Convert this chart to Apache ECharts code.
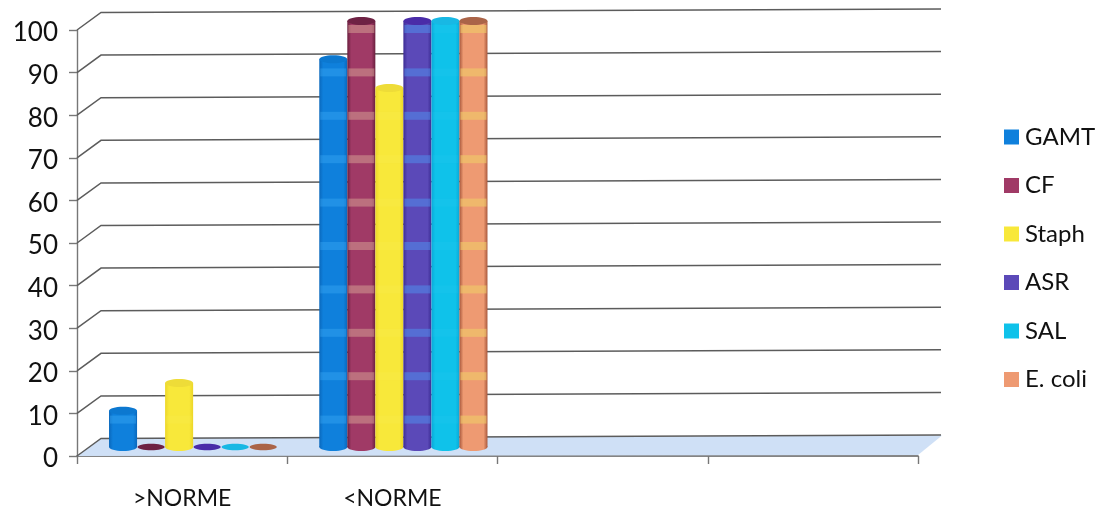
<!DOCTYPE html>
<html>
<head>
<meta charset="utf-8">
<style>html,body{margin:0;padding:0;background:#fff}#c{width:1095px;height:510px}</style>
<script src="https://cdn.jsdelivr.net/npm/echarts@6/dist/echarts.min.js"></script>
</head>
<body>
<div id="c"></div>
<script>
const categories = ['>NORME', '<NORME', '', ''];
const seriesNames = ['GAMT', 'CF', 'Staph', 'ASR', 'SAL', 'E. coli'];
const GAMT = [8.5, 91];
const CF = [0, 100];
const Staph = [15, 84.3];
const ASR = [0, 100];
const SAL = [0, 100];
const Ecoli = [0, 100];
const seriesValues = [GAMT, CF, Staph, ASR, SAL, Ecoli];
const gridValues = [0, 10, 20, 30, 40, 50, 60, 70, 80, 90, 100];
const bandValues = [10, 20, 30, 40, 50, 60, 70, 80, 90, 100];

const styles = [
  {base:'#0f80dc', edge:'#0a68bc', cap:'#0c78d0', band:'rgba(60,170,245,.4)'},
  {base:'#a03a66', edge:'#6a1f3e', cap:'#6e2244', band:'rgba(215,165,150,.5)'},
  {base:'#f8e83a', edge:'#ecd628', cap:'#eedc38', band:'rgba(250,240,90,.2)'},
  {base:'#5b49b8', edge:'#3c2c94', cap:'#4a2ca8', band:'rgba(80,140,235,.55)'},
  {base:'#0fc2ea', edge:'#0aa8d8', cap:'#18b8e4', band:'rgba(40,200,240,.2)'},
  {base:'#ee9a72', edge:'#a8583c', cap:'#aa6448', band:'rgba(240,205,105,.6)'}
];

function cylinder(idx) {
  const st = styles[idx];
  return function (params, api) {
    const cat = api.value(0), val = api.value(1);
    const base = api.coord([cat, 0]);
    const top = api.coord([cat, val]);
    const bandW = api.size([1, 0])[0];
    const w = bandW * 0.8 / 6;
    const x = base[0] - bandW * 0.4 + w * idx;
    const cx = x + w / 2, ry = 4;
    const fill = new echarts.graphic.LinearGradient(0, 0, 1, 0, [
      {offset:0, color:st.edge}, {offset:.14, color:st.base},
      {offset:.86, color:st.base}, {offset:1, color:st.edge}
    ]);
    const children = [];
    if (val > 0) {
      children.push({type:'ellipse', shape:{cx, cy:base[1], rx:w/2, ry}, style:{fill}});
      children.push({type:'rect', shape:{x, y:top[1], width:w, height:base[1]-top[1]}, style:{fill}});
      bandValues.forEach(v => {
        const y = 463 - 4.34 * v;
        if (y > top[1] + 3 && y < base[1] - 3) {
          children.push({type:'rect', shape:{x:x+1, y:y-4, width:w-2, height:8}, style:{fill:st.band}});
        }
      });
      children.push({type:'ellipse', shape:{cx, cy:top[1], rx:w/2, ry}, style:{fill:st.cap}});
    } else {
      children.push({type:'ellipse', shape:{cx, cy:base[1], rx:w/2-.5, ry:3.2}, style:{fill:st.cap}});
    }
    return {type:'group', children};
  };
}

const option = {
  animation: false,
  backgroundColor: '#fff',
  textStyle: {fontFamily: 'Lato'},
  legend: {
    orient: 'vertical', left: 1004, top: 125, padding: 0,
    itemWidth: 15, itemHeight: 15, itemGap: 24.5,
    data: seriesNames.map(n => ({name:n, icon:'rect'})),
    textStyle: {fontFamily:'Lato', fontSize:24, color:'#111', padding:[0,0,0,1]},
    selectedMode: false
  },
  grid: [
    {left:77, width:841, top:30, height:427},
    {left:88, width:841, top:21, height:426}
  ],
  xAxis: [
    {type:'category', gridIndex:0, data:categories,
      axisLine:{lineStyle:{color:'#5c5c5c', width:1.6}},
      axisTick:{show:true, length:8, lineStyle:{color:'#777', width:1.4}},
      axisLabel:{margin:31, fontFamily:'Lato', fontSize:23, color:'#111', interval:0},
      splitLine:{show:false}},
    {type:'category', gridIndex:1, data:categories, show:false}
  ],
  yAxis: [
    {type:'value', gridIndex:0, min:0, max:100, interval:10,
      axisLine:{show:true, lineStyle:{color:'#777', width:1.4}},
      axisTick:{show:true, length:8, lineStyle:{color:'#777', width:1.4}},
      axisLabel:{margin:19, formatter:'{a|{value}}',
        rich:{a:{padding:[6,0,0,0], fontFamily:'Lato', fontSize:26, color:'#111'}}},
      splitLine:{show:false}},
    {type:'value', gridIndex:1, min:0, max:100, interval:10, show:false}
  ],
  series: [
    {type:'custom', silent:true, xAxisIndex:0, yAxisIndex:0, z:1,
      data:[[0,0]], encode:{x:0,y:1},
      renderItem(p, api){
        const a = api.coord([0,0]);
        const x0 = a[0] - api.size([1,0])[0]/2;
        const y0 = a[1];
        return {type:'polygon', shape:{points:[[x0,y0],[x0+841,y0-1],[x0+865,y0-20.5],[x0+25,y0-18]]},
          style:{fill:'#cfe0f6'}};
      }},
    {type:'custom', silent:true, xAxisIndex:0, yAxisIndex:0, z:2,
      data:gridValues.map(v=>[0,v]), encode:{x:0,y:1},
      renderItem(p, api){
        const a = api.coord([0,api.value(1)]);
        const x0 = a[0] - api.size([1,0])[0]/2;
        const y0 = a[1];
        return {type:'polyline', shape:{points:[[x0,y0],[x0+24,y0-17.5],[x0+864,y0-21]]},
          style:{fill:'none', stroke:'#5c5c5c', lineWidth:1.5}};
      }}
  ].concat(seriesNames.map((name,i)=>({
    name, type:'custom', xAxisIndex:1, yAxisIndex:1, z:5+i,
    itemStyle:{color:styles[i].base},
    data:seriesValues[i].map((v,c)=>[c,v]), encode:{x:0,y:1},
    renderItem:cylinder(i)
  })))
};
echarts.init(document.getElementById('c')).setOption(option);
</script>
</body>
</html>
